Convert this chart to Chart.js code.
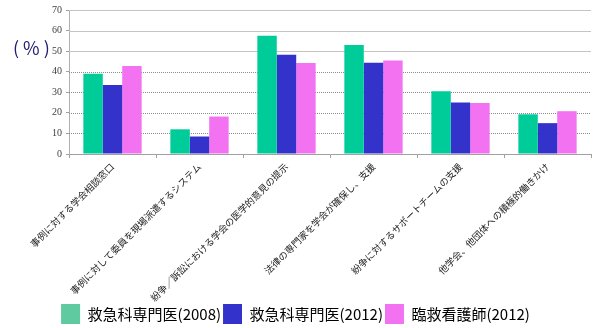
<!DOCTYPE html>
<html>
<head>
<meta charset="utf-8">
<script src="https://cdn.jsdelivr.net/npm/chart.js@4/dist/chart.umd.min.js"></script>
<style>
    html, body { margin: 0; padding: 0; background: #fff; }
    #wrap { width: 600px; height: 328px; }
</style>
</head>
<body>
<div id="wrap"><canvas id="chart" width="600" height="328"></canvas></div>
<script>
// Categories and series
const categories = [
    '事例に対する学会相談窓口',
    '事例に対して委員を現場派遣するシステム',
    '紛争／訴訟における学会の医学的意見の提示',
    '法律の専門家を学会が確保し、支援',
    '紛争に対するサポートチームの支援',
    '他学会、他団体への積極的働きかけ'
];
const seriesNames = ['救急科専門医(2008)', '救急科専門医(2012)', '臨救看護師(2012)'];
const doctors2008 = [39, 12, 57.5, 53, 30.5, 19.3];
const doctors2012 = [33.5, 8.5, 48.3, 44.3, 25, 15];
const nurses2012 = [42.8, 18.2, 44.2, 45.5, 24.8, 20.8];
const yTicks = [0, 10, 20, 30, 40, 50, 60, 70];

const barColors = ['#00CC99', '#3333CC', '#F272F2'];
const legendColors = ['#5FC99F', '#3333CC', '#F272F2'];
const jpFont = '"Noto Sans CJK JP", "Noto Sans", sans-serif';

// Gridlines: solid light grey for the upper lines, dotted for the lower ones
const gridPlugin = {
    id: 'gridLines',
    beforeDatasetsDraw(chart) {
        const { ctx, chartArea } = chart;
        const y = chart.scales.y;
        ctx.save();
        ctx.lineWidth = 1;
        y.ticks.forEach(t => {
            if (t.value === 0) return;
            const py = Math.round(y.getPixelForValue(t.value)) + 0.5;
            if (t.value >= 50) {
                ctx.setLineDash([]);
                ctx.strokeStyle = '#c4c4c4';
            } else {
                ctx.setLineDash([1, 1]);
                ctx.strokeStyle = '#8c8c8c';
            }
            ctx.beginPath();
            ctx.moveTo(chartArea.left, py);
            ctx.lineTo(chartArea.right, py);
            ctx.stroke();
        });
        ctx.restore();
    }
};

// Unit caption to the left of the y axis
const unitPlugin = {
    id: 'unitLabel',
    afterDraw(chart) {
        const { ctx } = chart;
        const y = chart.scales.y;
        ctx.save();
        ctx.fillStyle = '#202070';
        ctx.font = '18px ' + jpFont;
        ctx.textBaseline = 'middle';
        ctx.textAlign = 'left';
        ctx.fillText('( % )', 13, y.getPixelForValue(51.5));
        ctx.restore();
    }
};

new Chart(document.getElementById('chart'), {
    type: 'bar',
    data: {
        labels: categories,
        datasets: [
            { label: seriesNames[0], data: doctors2008, backgroundColor: barColors[0] },
            { label: seriesNames[1], data: doctors2012, backgroundColor: barColors[1] },
            { label: seriesNames[2], data: nurses2012, backgroundColor: barColors[2] }
        ]
    },
    options: {
        responsive: false,
        animation: false,
        layout: { padding: { top: 9, right: 9, bottom: -6, left: 0 } },
        datasets: {
            bar: { categoryPercentage: 0.67, barPercentage: 1.0, borderWidth: 0 }
        },
        plugins: {
            tooltip: { enabled: false },
            legend: {
                position: 'bottom',
                labels: {
                    boxWidth: 19,
                    boxHeight: 20,
                    padding: 2,
                    color: '#333',
                    font: { family: jpFont, size: 15 },
                    generateLabels(chart) {
                        return chart.data.datasets.map((ds, i) => ({
                            text: ds.label,
                            fillStyle: legendColors[i],
                            strokeStyle: legendColors[i],
                            lineWidth: 0,
                            hidden: false,
                            datasetIndex: i
                        }));
                    }
                }
            }
        },
        scales: {
            x: {
                afterFit(scale) { scale.height = 148; },
                grid: {
                    offset: true,
                    drawOnChartArea: false,
                    drawTicks: true,
                    tickLength: 4,
                    tickColor: '#a0a0a0'
                },
                border: { color: '#a0a0a0' },
                ticks: {
                    autoSkip: false,
                    minRotation: 45,
                    maxRotation: 45,
                    padding: 3,
                    color: '#222',
                    font: { family: jpFont, size: 9.5 }
                }
            },
            y: {
                min: 0,
                max: 70,
                afterFit(scale) { scale.width = 69; },
                afterBuildTicks(scale) {
                    scale.ticks = yTicks.map(v => ({ value: v }));
                },
                grid: {
                    drawOnChartArea: false,
                    drawTicks: true,
                    tickLength: 3,
                    tickColor: '#a0a0a0'
                },
                border: { color: '#b0b0b0' },
                ticks: {
                    padding: 4,
                    color: '#404040',
                    font: { family: '"Liberation Serif", serif', size: 10 }
                }
            }
        }
    },
    plugins: [gridPlugin, unitPlugin]
});
</script>
</body>
</html>
